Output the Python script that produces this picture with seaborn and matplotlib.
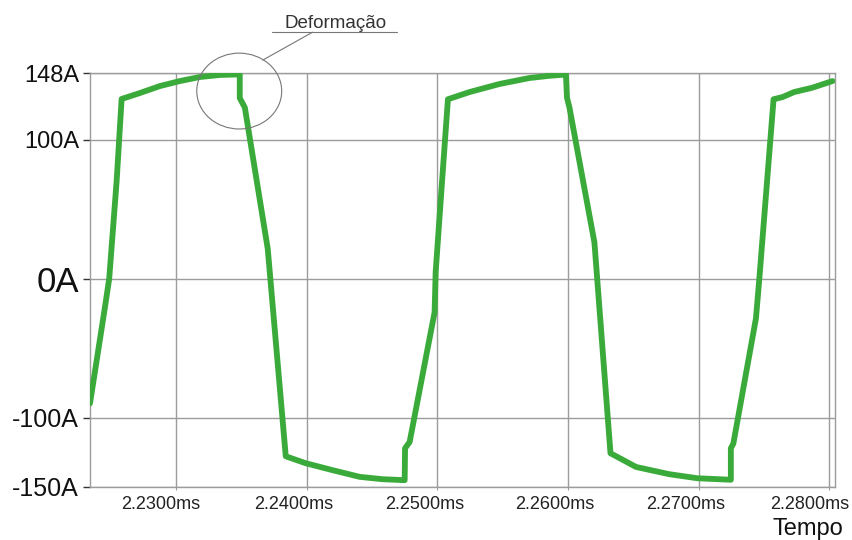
import numpy as np
import pandas as pd
import seaborn as sns
import matplotlib.pyplot as plt
from matplotlib.patches import Ellipse
from matplotlib.lines import Line2D
from matplotlib.transforms import ScaledTranslation

# Inverter output current waveform (time in ms, current in A)
time_ms = [
    2.22343, 2.22457, 2.22490, 2.22547, 2.22585, 2.22725, 2.22878, 2.23031,
    2.23183, 2.23336, 2.23489, 2.23489, 2.23528, 2.23703, 2.23841, 2.23994,
    2.24200, 2.24407, 2.24583, 2.24751, 2.24754, 2.24789, 2.24980, 2.24988,
    2.25031, 2.25082, 2.25248, 2.25477, 2.25706, 2.25859, 2.25985, 2.25993,
    2.26012, 2.26203, 2.26326, 2.26522, 2.26777, 2.26991, 2.27247, 2.27247,
    2.27266, 2.27439, 2.27465, 2.27574, 2.27643, 2.27732, 2.27870, 2.28025,
]
current_a = [
    -89.8, -20.8, 0.0, 70.4, 129.3, 133.6, 138.6, 142.2,
    145.1, 146.6, 147.0, 130.0, 123.1, 21.6, -127.9, -132.9,
    -137.9, -142.7, -144.4, -145.1, -122.1, -117.6, -24.2, 4.5,
    62.0, 129.1, 134.3, 140.1, 144.4, 146.0, 146.9, 130.2,
    123.1, 26.1, -125.7, -135.6, -140.8, -143.7, -144.8, -122.1,
    -118.8, -28.7, 0.0, 129.1, 130.7, 134.3, 137.4, 142.2,
]

x_ticks = [2.23, 2.24, 2.25, 2.26, 2.27, 2.28]
x_tick_labels = ["2.2300ms", "2.2400ms", "2.2500ms", "2.2600ms", "2.2700ms", "2.2800ms"]
y_ticks = [-150, -100, 0, 100, 148]
y_tick_labels = ["-150A", "-100A", "0A", "100A", "148A"]
y_tick_sizes = [18, 18, 25, 17, 17]

df = pd.DataFrame({"Tempo": time_ms, "Corrente": current_a})

sns.set_style("white")
plt.rcParams["font.family"] = ["Liberation Sans", "DejaVu Sans"]

W, H = 853, 540
fig = plt.figure(figsize=(W / 100, H / 100), dpi=100)
ax = fig.add_axes([90 / W, 53 / H, 745 / W, 414 / H])

grid_c = "#9c9c9c"
green = "#3aab3a"

sns.lineplot(data=df, x="Tempo", y="Corrente", sort=False, estimator=None,
             color=green, linewidth=4.2, ax=ax, zorder=3)

ax.set_xlim(2.22343, 2.28044)
ax.set_ylim(-150, 148)
ax.set_xlabel("")
ax.set_ylabel("")

ax.tick_params(axis="y", left=True, length=5, width=1.0, color="#333333", pad=3)
ax.tick_params(axis="x", bottom=True, length=2.5, width=0.8, color=grid_c, pad=4)

ax.set_xticks(x_ticks)
ax.set_xticklabels(x_tick_labels, fontsize=13, color="#222222")
ax.set_yticks(y_ticks)
ax.set_yticklabels(y_tick_labels, color="#111111")
for lab, fs in zip(ax.get_yticklabels(), y_tick_sizes):
    lab.set_fontsize(fs)

# x labels sit slightly left of their grid lines
x_shifts = [-15, -13, -13, -13, -13, -20]
for lab, dx in zip(ax.get_xticklabels(), x_shifts):
    lab.set_transform(lab.get_transform()
                      + ScaledTranslation(dx / 100, 0, fig.dpi_scale_trans))

ax.set_axisbelow(True)
ax.grid(True, color=grid_c, linewidth=1.0)
for sp in ax.spines.values():
    sp.set_color(grid_c)
    sp.set_linewidth(1.0)

# Annotation around the flat-top distortion
ell = Ellipse((2.23485, 135.0), width=0.0065, height=54.6, fill=False,
              edgecolor="#777777", linewidth=0.8, clip_on=False, zorder=4)
ax.add_patch(ell)
ax.add_line(Line2D([2.23665, 2.24047], [157.3, 177.4], color="#777777",
                   linewidth=0.8, clip_on=False))
ax.add_line(Line2D([2.23734, 2.24690], [177.4, 177.4], color="#777777",
                   linewidth=0.8, clip_on=False))
ax.text(2.24223, 180.5, "Deformação", ha="center", va="baseline",
        fontsize=13.5, color="#333333", clip_on=False)

fig.text(843 / W, 1 - 535 / H, "Tempo", ha="right", va="baseline",
         fontsize=17, color="#111111")

fig.savefig("out.png", dpi=100)
